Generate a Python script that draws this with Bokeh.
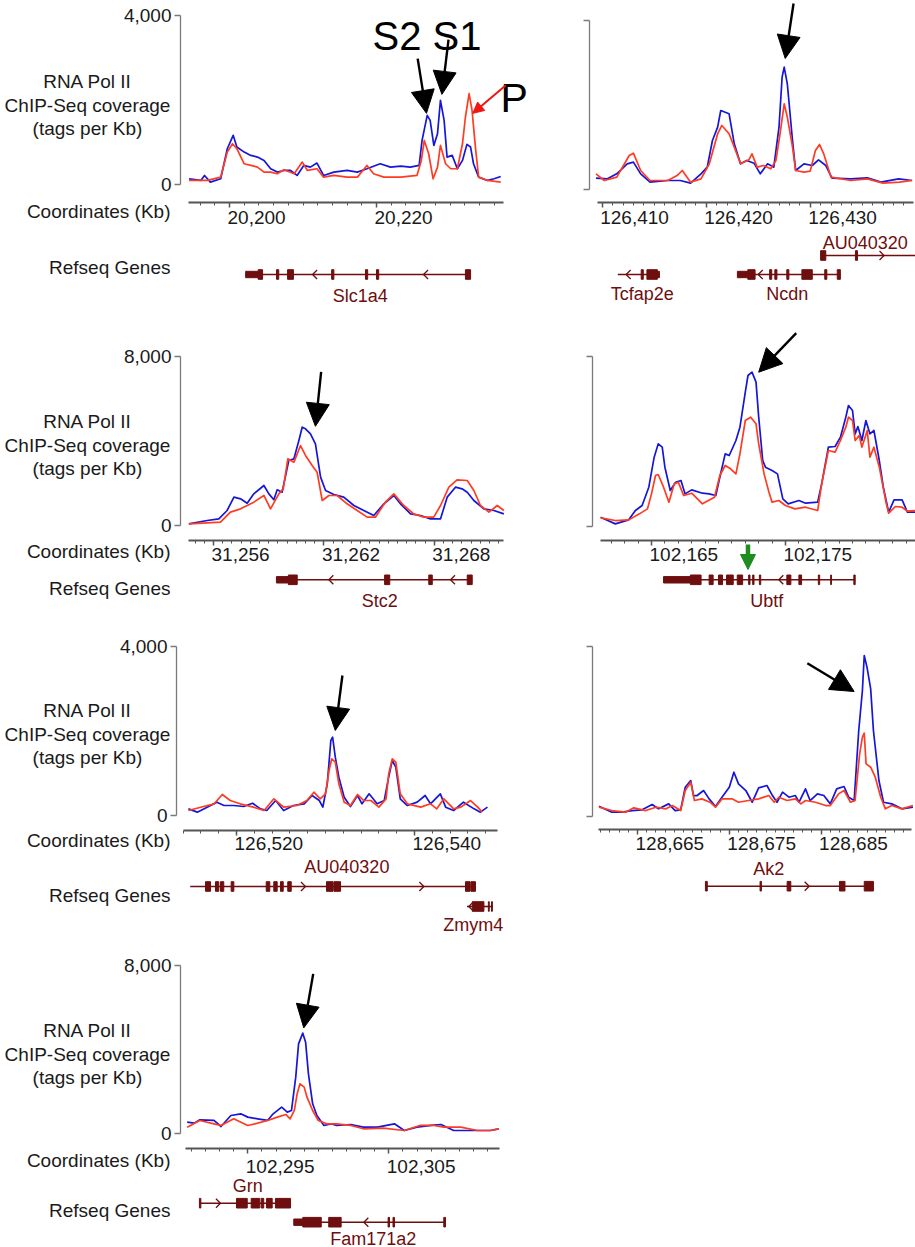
import numpy as np
from bokeh.plotting import figure
from bokeh.layouts import column, row
from bokeh.models import (Range1d, LinearAxis, FixedTicker, NumeralTickFormatter,
                          Arrow, NormalHead)
from bokeh.core.properties import value
from bokeh.embed import file_html
from bokeh.resources import INLINE

# ---------------- data: Pol II ChIP-seq coverage (tags per Kb) ----------------
P1_BLUE_KB = [20194.5, 20196.1, 20196.6, 20197.4, 20198.8, 20199.7, 20200.5, 20201.0, 20202.0, 20202.9,
              20203.8, 20204.7, 20205.6, 20206.5, 20207.4, 20208.3, 20209.2, 20210.1, 20211.0, 20211.9,
              20212.8, 20214.2, 20216.0, 20217.4, 20218.7, 20220.5, 20221.9, 20223.3, 20224.6, 20225.8,
              20226.2, 20226.9, 20227.3, 20227.8, 20228.3, 20228.7, 20229.2, 20229.6, 20230.3, 20231.0,
              20231.7, 20232.3, 20232.8, 20233.2, 20233.9, 20235.1, 20236.0, 20236.9]
P1_BLUE = [142, 103, 221, 63, 142, 852, 1168, 892, 773, 694,
           655, 576, 379, 300, 339, 339, 221, 458, 418, 513,
           221, 300, 339, 300, 379, 497, 418, 442, 418, 458,
           1049, 1641, 1523, 931, 1207, 1996, 1523, 655, 694, 379,
           576, 955, 892, 497, 181, 103, 142, 197]
P1_RED_KB = [20194.5, 20197.0, 20198.8, 20199.7, 20200.4, 20201.0, 20202.0, 20202.9, 20203.8, 20204.7,
             20205.6, 20206.5, 20207.4, 20208.8, 20209.9, 20210.6, 20211.9, 20212.8, 20214.2, 20216.0,
             20217.4, 20218.7, 20219.6, 20221.0, 20223.3, 20225.5, 20226.1, 20226.5, 20227.1, 20227.7,
             20228.3, 20228.7, 20229.4, 20230.1, 20231.0, 20231.7, 20232.1, 20232.6, 20233.0, 20233.5,
             20233.9, 20235.1, 20236.9]
P1_RED = [103, 103, 181, 773, 970, 852, 497, 458, 418, 300,
          300, 260, 355, 260, 537, 339, 379, 181, 221, 181,
          181, 458, 260, 181, 181, 221, 576, 1049, 734, 142,
          418, 931, 497, 379, 379, 970, 1602, 2154, 1759, 813,
          181, 103, 63]

P2_BLUE_KB = [126409.4, 126410.5, 126411.4, 126412.4, 126413.0, 126413.7, 126414.6, 126416.3, 126417.5, 126418.5,
              126419.5, 126420.1, 126420.6, 126421.1, 126421.4, 126422.2, 126422.7, 126423.3, 126423.9, 126424.6,
              126425.2, 126425.9, 126426.5, 126427.0, 126427.3, 126427.5, 126427.8, 126428.3, 126428.6, 126429.4,
              126430.2, 126430.8, 126431.5, 126432.1, 126433.9, 126435.5, 126436.8, 126438.5, 126439.8]
P2_BLUE = [268, 252, 371, 608, 647, 371, 174, 213, 213, 150,
           371, 529, 1160, 1475, 1870, 1791, 1081, 608, 686, 623,
           371, 608, 529, 1475, 2659, 2896, 2501, 1160, 450, 608,
           568, 702, 568, 268, 252, 276, 174, 252, 213]
P2_RED_KB = [126409.4, 126410.2, 126411.4, 126412.6, 126413.0, 126413.7, 126414.6, 126416.3, 126417.2, 126417.7,
             126418.5, 126419.5, 126420.3, 126421.1, 126421.5, 126422.2, 126422.7, 126423.3, 126424.1, 126424.4,
             126424.9, 126425.5, 126426.2, 126426.7, 126427.1, 126427.5, 126427.8, 126428.3, 126428.6, 126429.4,
             126430.0, 126430.5, 126430.9, 126431.3, 126432.0, 126433.9, 126435.5, 126437.0, 126438.6, 126439.8]
P2_RED = [371, 213, 292, 805, 860, 450, 213, 213, 331, 450,
          174, 252, 608, 1318, 1515, 1318, 1002, 608, 702, 844,
          529, 568, 489, 686, 1318, 2028, 1712, 1002, 450, 410,
          434, 923, 1065, 844, 292, 213, 252, 150, 174, 213]

P3_BLUE_KB = [31254.66, 31255.66, 31256.29, 31256.74, 31257.11, 31257.47, 31257.83, 31258.19, 31258.74, 31259.01,
              31259.28, 31259.46, 31259.73, 31260.09, 31260.37, 31260.64, 31260.82, 31261.00, 31261.27, 31261.54,
              31261.82, 31262.09, 31262.54, 31263.08, 31263.63, 31264.17, 31264.71, 31265.26, 31265.80, 31266.16,
              31266.71, 31267.25, 31267.79, 31268.34, 31268.70, 31269.15, 31269.51, 31269.79, 31270.15, 31270.69,
              31271.24, 31271.78]
P3_BLUE = [79, 236, 315, 709, 1339, 1260, 1055, 1496, 1890, 1496,
           1213, 1685, 1575, 3071, 3150, 4016, 4646, 4568, 4331, 3859,
           2284, 1654, 1465, 1339, 945, 709, 473, 1024, 1418, 1024,
           551, 473, 315, 315, 1339, 1811, 1733, 1575, 1181, 788,
           709, 551]
P3_RED_KB = [31254.66, 31256.38, 31256.92, 31257.47, 31258.19, 31258.74, 31259.10, 31259.55, 31259.79, 31260.04,
             31260.37, 31260.73, 31261.00, 31261.36, 31261.63, 31261.91, 31262.27, 31262.72, 31263.26, 31263.81,
             31264.35, 31264.80, 31265.34, 31265.80, 31266.34, 31266.88, 31267.43, 31267.97, 31268.34, 31268.79,
             31269.24, 31269.79, 31270.15, 31270.51, 31270.97, 31271.42, 31271.78]
P3_RED = [79, 158, 630, 788, 1103, 1418, 788, 1496, 1733, 3150,
          2993, 3780, 3308, 2835, 2520, 1181, 1418, 1418, 1024, 709,
          394, 394, 1103, 1496, 945, 551, 394, 394, 945, 1811,
          2158, 2126, 1654, 945, 630, 945, 709]

P4_BLUE_KB = [102161.2, 102162.3, 102163.3, 102163.8, 102164.3, 102164.8, 102165.2, 102165.5, 102165.8, 102166.0,
              102166.4, 102166.8, 102167.2, 102167.5, 102168.0, 102168.8, 102169.3, 102169.8, 102170.1, 102170.5,
              102170.8, 102171.3, 102171.6, 102172.0, 102172.2, 102172.5, 102172.8, 102173.0, 102173.3, 102173.5,
              102174.0, 102174.4, 102174.8, 102175.2, 102176.0, 102176.5, 102177.4, 102177.7, 102178.2, 102178.7,
              102179.1, 102179.5, 102179.7, 102180.0, 102180.2, 102180.4, 102180.7, 102181.0, 102181.3, 102181.6,
              102182.0, 102182.3, 102182.7, 102183.1, 102183.7, 102184.1, 102184.7]
P4_BLUE = [424, 110, 298, 737, 973, 1836, 3248, 3874, 3719, 2777,
           1679, 2071, 2150, 1522, 1710, 1553, 1522, 1443, 2306, 3405,
           3326, 4032, 4660, 6307, 7092, 7249, 6778, 5131, 3091, 2777,
           2620, 2463, 1287, 1051, 1208, 1083, 1130, 1993, 3719, 3750,
           4189, 5131, 5680, 5444, 4346, 4691, 4032, 4974, 4346, 4503,
           3091, 1836, 659, 1240, 1240, 659, 659]
P4_RED_KB = [102161.2, 102162.3, 102163.3, 102164.1, 102164.7, 102165.0, 102165.3, 102165.5, 102165.9, 102166.3,
             102166.7, 102167.0, 102167.4, 102168.0, 102168.8, 102169.7, 102170.1, 102170.5, 102170.9, 102171.3,
             102171.6, 102172.0, 102172.4, 102172.8, 102173.0, 102173.4, 102173.8, 102174.0, 102174.5, 102175.0,
             102175.7, 102176.5, 102177.4, 102177.7, 102178.2, 102178.7, 102179.1, 102179.5, 102179.7, 102180.0,
             102180.2, 102180.5, 102180.7, 102181.1, 102181.3, 102181.6, 102182.0, 102182.5, 102182.7, 102183.2,
             102183.7, 102184.1, 102184.7]
P4_RED = [392, 267, 298, 581, 816, 1522, 2385, 2432, 1836, 1130,
          1993, 2071, 1443, 1553, 1051, 1365, 2385, 2856, 2699, 2463,
          3405, 4974, 5131, 4817, 3875, 2463, 1522, 1130, 1208, 973,
          816, 894, 737, 1993, 3562, 3483, 4032, 4660, 5131, 4974,
          4032, 4268, 3719, 4503, 3248, 3719, 2777, 1130, 612, 926,
          894, 706, 737]

P5_BLUE_KB = [126514.6, 126515.6, 126516.7, 126517.8, 126518.6, 126519.7, 126520.8, 126521.8, 126522.7, 126523.4,
              126524.4, 126525.3, 126526.4, 126527.6, 126528.5, 126529.3, 126529.7, 126530.2, 126530.6, 126530.8,
              126531.1, 126531.5, 126532.1, 126532.8, 126533.6, 126534.1, 126534.9, 126535.8, 126536.6, 126537.1,
              126537.5, 126537.9, 126538.4, 126539.2, 126540.3, 126541.2, 126541.8, 126542.9, 126543.5, 126544.4,
              126545.5, 126546.7, 126547.4, 126548.2]
P5_BLUE = [157, 79, 197, 315, 236, 236, 213, 291, 157, 118,
           354, 118, 236, 276, 472, 354, 197, 748, 1772, 1850,
           1378, 906, 433, 213, 472, 276, 512, 276, 354, 906,
           1299, 1142, 394, 236, 315, 472, 276, 512, 197, 118,
           315, 157, 79, 197]
P5_RED_KB = [126514.6, 126516.3, 126517.5, 126518.4, 126519.3, 126520.4, 126521.9, 126523.1, 126524.2, 126525.3,
             126526.8, 126527.9, 126528.7, 126529.4, 126530.0, 126530.4, 126530.7, 126531.1, 126531.5, 126532.1,
             126532.8, 126533.6, 126534.3, 126535.1, 126536.0, 126536.8, 126537.1, 126537.5, 126537.9, 126538.4,
             126539.2, 126540.7, 126541.8, 126542.5, 126543.3, 126544.4, 126545.2, 126546.3, 126547.1, 126547.6]
P5_RED = [118, 213, 276, 496, 354, 276, 197, 118, 394, 197,
          236, 354, 551, 394, 512, 1063, 1339, 1260, 748, 315,
          236, 496, 354, 354, 197, 394, 984, 1339, 1260, 512,
          276, 197, 276, 157, 394, 157, 197, 354, 197, 79]

P6_BLUE_KB = [128660.8, 128662.2, 128663.3, 128664.4, 128665.5, 128666.6, 128667.3, 128668.4, 128669.1, 128669.7,
              128670.2, 128670.8, 128671.1, 128671.5, 128672.2, 128672.8, 128673.5, 128674.2, 128675.0, 128675.5,
              128676.0, 128676.8, 128677.5, 128678.2, 128679.1, 128679.7, 128680.2, 128680.8, 128681.5, 128682.2,
              128682.6, 128683.3, 128683.8, 128684.6, 128685.3, 128686.0, 128686.7, 128687.5, 128688.0, 128688.6,
              128689.1, 128689.5, 128689.7, 128690.0, 128690.4, 128690.7, 128691.3, 128691.8, 128692.7, 128693.8,
              128695.0]
P6_BLUE = [235, 94, 94, 133, 149, 275, 173, 290, 133, 149,
           682, 839, 486, 486, 604, 408, 227, 447, 682, 1035,
           761, 604, 329, 667, 722, 486, 329, 565, 447, 486,
           329, 643, 369, 525, 486, 290, 643, 698, 447, 369,
           2016, 2957, 3780, 3506, 2996, 2016, 839, 329, 290, 173,
           212]
P6_RED_KB = [128660.8, 128662.2, 128663.7, 128664.6, 128665.9, 128667.0, 128668.1, 128668.8, 128669.7, 128670.2,
             128670.8, 128671.2, 128672.0, 128672.9, 128673.5, 128674.2, 128675.3, 128676.0, 128677.1, 128678.2,
             128679.3, 128679.9, 128680.4, 128681.3, 128682.2, 128682.8, 128683.3, 128684.4, 128685.5, 128686.0,
             128686.9, 128687.5, 128688.2, 128688.7, 128689.2, 128689.5, 128689.7, 128689.9, 128690.4, 128690.9,
             128691.5, 128692.0, 128692.7, 128693.8, 128695.0]
P6_RED = [212, 133, 94, 196, 133, 212, 173, 251, 133, 604,
          800, 369, 408, 329, 212, 408, 408, 329, 369, 408,
          486, 329, 447, 369, 408, 290, 369, 329, 251, 251,
          525, 604, 329, 369, 1467, 1859, 1953, 1231, 1153, 918,
          447, 173, 251, 173, 251]

P7_BLUE_KB = [102290.7, 102291.2, 102291.6, 102292.6, 102293.1, 102293.8, 102294.5, 102295.0, 102295.7, 102296.4,
              102296.8, 102297.4, 102297.8, 102298.1, 102298.4, 102298.6, 102298.9, 102299.1, 102299.3, 102299.6,
              102299.9, 102300.4, 102300.9, 102301.3, 102302.3, 102303.2, 102304.2, 102305.4, 102306.1, 102307.0,
              102308.0, 102308.7, 102309.6, 102311.0, 102312.2, 102312.8]
P7_BLUE = [554, 507, 665, 634, 348, 871, 950, 792, 713, 634,
           950, 1267, 1030, 1109, 2693, 4277, 4784, 4356, 2851, 1426,
           871, 396, 475, 396, 443, 317, 317, 475, 158, 317,
           396, 443, 158, 158, 158, 238]
P7_RED_KB = [102290.7, 102291.6, 102292.6, 102293.1, 102294.0, 102295.0, 102295.7, 102296.4, 102297.1, 102297.7,
             102298.0, 102298.3, 102298.5, 102298.7, 102299.0, 102299.2, 102299.6, 102300.0, 102300.6, 102301.3,
             102302.3, 102303.2, 102304.6, 102306.1, 102307.2, 102308.2, 102308.9, 102310.1, 102311.3, 102312.2,
             102312.8]
P7_RED = [317, 634, 475, 396, 713, 396, 507, 634, 792, 919,
          713, 1109, 1901, 2376, 2218, 1742, 1109, 634, 475, 475,
          396, 238, 269, 158, 396, 396, 317, 317, 158, 158,
          238]

# axis ticks (Kb) and y-axis maxima
P1_TICKS = [20200, 20220]
P2_TICKS = [126410, 126420, 126430]
P3_TICKS = [31256, 31262, 31268]
P4_TICKS = [102165, 102175]
P5_TICKS = [126520, 126540]
P6_TICKS = [128665, 128675, 128685]
P7_TICKS = [102295, 102305]
YMAX = [4000, 4000, 8000, 8000, 4000, 4000, 8000]

# ---------------- data: RefSeq gene models (Kb) ----------------
SLC1A4 = dict(name="Slc1a4", span=(20202.2, 20232.8), strand="<", chev=[20211.3, 20226.4], label=20217.8,
              utr=[(20202.2, 20203.9)],
              exons=[(20203.9, 20204.5), (20206.4, 20206.7), (20207.9, 20208.7), (20213.9, 20214.2),
                     (20218.5, 20218.8), (20220.0, 20220.3), (20232.1, 20232.8)])
AU040320_A = dict(name="AU040320", span=(126431.0, 126440.5), strand=">", chev=[126437.1], label=126435.3,
                  utr=[], exons=[(126431.0, 126431.5), (126434.35, 126434.55)])
TCFAP2E = dict(name="Tcfap2e", span=(126411.5, 126415.5), strand="<", chev=[126412.3], label=126413.85,
               utr=[(126415.3, 126415.5)], exons=[(126413.75, 126413.95), (126414.3, 126415.3)])
NCDN = dict(name="Ncdn", span=(126423.0, 126432.9), strand="<", chev=[126425.0], label=126427.8,
            utr=[(126423.0, 126424.0)],
            exons=[(126424.0, 126424.7), (126426.1, 126426.3), (126426.6, 126426.8), (126427.75, 126427.95),
                   (126429.2, 126430.2), (126431.4, 126431.6), (126432.6, 126432.9)])
STC2 = dict(name="Stc2", span=(31259.42, 31270.06), strand="<", chev=[31262.27, 31268.88], label=31265.04,
            utr=[(31259.42, 31260.07)],
            exons=[(31260.07, 31260.55), (31265.3, 31265.58), (31267.70, 31267.89), (31269.79, 31270.06)])
UBTF = dict(name="Ubtf", span=(102165.9, 102180.2), strand="<", chev=[102174.5], label=102173.6,
            utr=[(102165.9, 102167.9)],
            exons=[(102167.9, 102168.7), (102169.3, 102169.6), (102170.0, 102170.3), (102170.6, 102171.1),
                   (102171.4, 102171.8), (102172.25, 102172.35), (102172.55, 102172.65), (102173.05, 102173.15),
                   (102175.1, 102175.4), (102176.0, 102176.2), (102177.45, 102177.55), (102178.37, 102178.43),
                   (102180.1, 102180.2)])
AU040320_B = dict(name="AU040320", span=(126514.8, 126546.85), strand=">", chev=[126527.75, 126541.05],
                  label=126532.4, utr=[],
                  exons=[(126516.52, 126517.08), (126517.64, 126518.01), (126518.20, 126518.57),
                         (126519.40, 126519.70), (126523.34, 126523.74), (126524.19, 126524.57),
                         (126524.94, 126525.25), (126525.76, 126526.15), (126530.11, 126530.85),
                         (126530.95, 126531.69), (126545.73, 126546.25), (126546.35, 126546.85)])
ZMYM4 = dict(name="Zmym4", span=(126545.9, 126548.8), strand="<", chev=[126546.1], label=126546.6,
             utr=[], exons=[(126546.5, 126547.8), (126548.3, 126548.4), (126548.65, 126548.75)])
AK2 = dict(name="Ak2", span=(128672.4, 128690.7), strand=">", chev=[128683.7], label=128679.3,
           utr=[], exons=[(128672.4, 128672.6), (128678.35, 128678.5), (128681.3, 128681.7),
                          (128687.0, 128687.6), (128689.7, 128690.7)])
GRN = dict(name="Grn", span=(102291.57, 102298.03), strand=">", chev=[102293.06], label=102295.0,
           utr=[], exons=[(102291.57, 102291.67), (102294.20, 102294.96), (102295.24, 102295.85),
                          (102295.95, 102296.13), (102296.33, 102296.73), (102296.96, 102298.03)])
FAM171A2 = dict(name="Fam171a2", span=(102298.26, 102309.02), strand="<", chev=[102303.23], label=102303.9,
                utr=[(102298.26, 102298.9)],
                exons=[(102298.9, 102300.21), (102300.74, 102301.62), (102304.95, 102305.05),
                       (102305.3, 102305.4), (102308.9, 102309.02)])

# annotation arrows: (x_start Kb, y_start, x_end Kb, y_end) in coverage units
P1_ARROWS = [(20225.6, 2982, 20226.8, 1688), (20229.8, 3432, 20228.9, 2137)]
P1_RED_ARROW = (20237.6, 2351, 20233.1, 1688)
P2_ARROWS = [(126428.4, 4403, 126427.6, 3101)]
P3_ARROWS = [(31261.85, 7257, 31261.54, 4687)]
P4_ARROWS = [(102175.8, 9083, 102173.0, 7247)]
P4_GREEN = (102172.2, -861, 102172.2, -2038)
P5_ARROWS = [(126531.9, 3308, 126531.1, 2009)]
P6_ARROWS = [(128683.5, 3600, 128688.6, 2934)]
P7_ARROWS = [(102299.64, 7600, 102298.97, 5035)]

# ---------------- styling ----------------
FONT = "Liberation Sans"
BLUE = "#1616d8"
RED = "#ff3b22"
GENE = "#6e0e0e"
TXT = "#1a1a1a"


def make_panel(box, xref, yax_x, zero_px, max_px, vmax, xaxis_y, xbounds, majors, minor_step,
               tl_y, blue, red, genes, arrows, left=None, ylabels=True):
    fx0, fx1, fy0, fy1 = box
    tk, tpx, ppk = xref
    kb = lambda px: tk + (px - tpx) / ppk
    vpp = vmax / (zero_px - max_px)
    cov = lambda py: (zero_px - py) * vpp
    p = figure(width=fx1 - fx0, height=fy1 - fy0, title=None,
               x_range=Range1d(kb(fx0), kb(fx1)), y_range=Range1d(cov(fy1), cov(fy0)),
               output_backend="svg", toolbar_location=None,
               x_axis_location=None, y_axis_location=None, min_border=0,
               outline_line_color=None, background_fill_color="white", border_fill_color="white")
    p.xgrid.visible = False
    p.ygrid.visible = False
    p.extra_x_ranges = {"px": Range1d(fx0, fx1)}
    p.extra_y_ranges = {"py": Range1d(fy1, fy0)}

    # y axis
    yax = LinearAxis(x_range_name="px", fixed_location=yax_x, bounds=(0, vmax),
                     ticker=FixedTicker(ticks=[0, vmax], minor_ticks=[]),
                     formatter=NumeralTickFormatter(format="0,0"))
    yax.axis_line_color = "#7a7a7a"
    yax.axis_line_width = 1.3
    yax.major_tick_line_color = "#7a7a7a"
    yax.major_tick_line_width = 1.3
    yax.major_tick_out = 6
    yax.major_tick_in = 0
    yax.minor_tick_line_color = None
    yax.major_label_standoff = 3
    yax.major_label_text_font = FONT
    yax.major_label_text_font_size = "19px"
    yax.major_label_text_color = TXT if ylabels else None
    p.add_layout(yax, "left")

    # x axis
    m0 = np.ceil(xbounds[0] / minor_step) * minor_step
    minors = [float(v) for v in np.arange(m0, xbounds[1], minor_step)]
    xax = LinearAxis(y_range_name="py", fixed_location=xaxis_y, bounds=xbounds,
                     ticker=FixedTicker(ticks=majors, minor_ticks=minors))
    xax.axis_line_color = "#555555"
    xax.axis_line_width = 2
    xax.major_tick_line_color = "#555555"
    xax.major_tick_line_width = 1.5
    xax.major_tick_out = 5
    xax.major_tick_in = 0
    xax.minor_tick_line_color = "#555555"
    xax.minor_tick_line_width = 1
    xax.minor_tick_out = 3
    xax.minor_tick_in = 0
    xax.major_label_text_color = None
    p.add_layout(xax, "below")
    p.text(x=majors, y=[tl_y] * len(majors), text=[f"{int(t):,}" for t in majors],
           y_range_name="py", text_align="left", text_baseline="middle", x_offset=-2,
           text_font=value(FONT), text_font_size="19px", text_color=TXT)

    # coverage lines
    p.line(blue[0], blue[1], line_color=BLUE, line_width=1.7, line_join="round")
    p.line(red[0], red[1], line_color=RED, line_width=1.7, line_join="round")

    # genes
    for g, line_y, label_y in genes:
        p.segment(x0=[g["span"][0]], y0=[line_y], x1=[g["span"][1]], y1=[line_y],
                  y_range_name="py", line_color=GENE, line_width=1.6)
        for blocks, half in ((g["utr"], 3.2), (g["exons"], 4.8)):
            if blocks:
                p.quad(left=[b[0] for b in blocks], right=[b[1] for b in blocks],
                       top=[line_y - half] * len(blocks), bottom=[line_y + half] * len(blocks),
                       y_range_name="py", fill_color=GENE, line_color=GENE, line_width=1)
        dx = 4.5 / ppk
        sgn = 1 if g["strand"] == "<" else -1
        xs = [[c + sgn * dx, c, c + sgn * dx] for c in g["chev"]]
        ys = [[line_y - 4.5, line_y, line_y + 4.5] for _ in g["chev"]]
        p.multi_line(xs, ys, y_range_name="py", line_color=GENE, line_width=1.3)
        p.text(x=[g["label"]], y=[label_y], text=[g["name"]], y_range_name="py",
               text_align="center", text_baseline="middle", text_font=value(FONT),
               text_font_size="18px", text_color=GENE)

    # arrows
    for (xs_, ys_, xe, ye) in arrows:
        p.add_layout(Arrow(x_start=xs_, y_start=ys_, x_end=xe, y_end=ye, line_color="black",
                           line_width=2.4,
                           end=NormalHead(size=23, fill_color="black", line_color="black")))

    # left-side labels
    if left is not None:
        rows, coord_y, ref_y = left
        p.text(x=[87] * 3, y=list(rows), text=["RNA Pol II", "ChIP-Seq coverage", "(tags per Kb)"],
               x_range_name="px", y_range_name="py", text_align="center", text_baseline="middle",
               text_font=value(FONT), text_font_size="19px", text_color=TXT)
        p.text(x=[170, 170], y=[coord_y, ref_y], text=["Coordinates (Kb)", "Refseq Genes"],
               x_range_name="px", y_range_name="py", text_align="right", text_baseline="middle",
               text_font=value(FONT), text_font_size="19px", text_color=TXT)
    return p


f1 = make_panel((0, 530, 0, 320), (20200, 229, 7.35), 180, 184.3, 15, YMAX[0], 202, (20194.4, 20237.3),
                P1_TICKS, 2, 216.5, (P1_BLUE_KB, P1_BLUE), (P1_RED_KB, P1_RED),
                [(SLC1A4, 274, 295)], P1_ARROWS, left=((81, 105, 128), 211, 267))
f1.text(x=[372], y=[35], text=["S2 S1"], x_range_name="px", y_range_name="py", text_align="left",
        text_baseline="alphabetic", text_font=value(FONT), text_font_size="40px", text_color="black")
f1.text(x=[500], y=[97], text=["P"], x_range_name="px", y_range_name="py", text_align="left",
        text_baseline="alphabetic", text_font=value(FONT), text_font_size="41px", text_color="black")
f1.add_layout(Arrow(x_start=P1_RED_ARROW[0], y_start=P1_RED_ARROW[1], x_end=P1_RED_ARROW[2],
                    y_end=P1_RED_ARROW[3], line_color="#ee1515", line_width=2,
                    end=NormalHead(size=11, fill_color="#ee1515", line_color="#ee1515")))

f2 = make_panel((530, 915, 0, 320), (126410, 601.7, 10.4), 589, 189, 20, YMAX[1], 202, (126409.5, 126439.9),
                P2_TICKS, 1, 216.5, (P2_BLUE_KB, P2_BLUE), (P2_RED_KB, P2_RED),
                [(AU040320_A, 255, 242), (TCFAP2E, 274, 293), (NCDN, 274, 293)], P2_ARROWS, ylabels=False)

f3 = make_panel((0, 530, 320, 632), (31256, 213, 18.4), 180, 525, 355.7, YMAX[2], 540, (31254.64, 31271.75),
                P3_TICKS, 0.5, 554, (P3_BLUE_KB, P3_BLUE), (P3_RED_KB, P3_RED),
                [(STC2, 579.3, 600)], P3_ARROWS, left=((421, 445, 468), 551, 588))

f4 = make_panel((530, 915, 320, 632), (102165, 651, 13.4), 592, 525.7, 355.7, YMAX[3], 540, (102161.2, 102184.7),
                P4_TICKS, 1, 554, (P4_BLUE_KB, P4_BLUE), (P4_RED_KB, P4_RED),
                [(UBTF, 579.3, 600)], P4_ARROWS, ylabels=False)
f4.add_layout(Arrow(x_start=P4_GREEN[0], y_start=P4_GREEN[1], x_end=P4_GREEN[2], y_end=P4_GREEN[3],
                    line_color="#1e8c1e", line_width=4.5,
                    end=NormalHead(size=15, fill_color="#1e8c1e", line_color="#1e8c1e")))

f5 = make_panel((0, 530, 632, 940), (126520, 236, 8.9), 176, 815, 645.7, YMAX[4], 830, (126514.0, 126549.3),
                P5_TICKS, 2, 843, (P5_BLUE_KB, P5_BLUE), (P5_RED_KB, P5_RED),
                [(AU040320_B, 886, 866.7), (ZMYM4, 906, 924)], P5_ARROWS, left=((710, 734, 757), 840, 895))

f6 = make_panel((530, 915, 632, 940), (128665, 637, 9.18), 592, 815.7, 645.7, YMAX[5], 829, (128660.75, 128694.9),
                P6_TICKS, 1, 843, (P6_BLUE_KB, P6_BLUE), (P6_RED_KB, P6_RED),
                [(AK2, 885.7, 868)], P6_ARROWS, ylabels=False)

f7 = make_panel((0, 530, 940, 1247), (102295, 247.3, 14.1), 180, 1133.3, 965, YMAX[6], 1148, (102290.6, 102312.85),
                P7_TICKS, 1, 1166, (P7_BLUE_KB, P7_BLUE), (P7_RED_KB, P7_RED),
                [(GRN, 1202.7, 1185), (FAM171A2, 1221.7, 1238)], P7_ARROWS, left=((1030, 1054, 1077), 1160, 1210))

layout = column(row(f1, f2), row(f3, f4), row(f5, f6), row(f7))

open("out.html", "w").write(file_html(layout, INLINE))
